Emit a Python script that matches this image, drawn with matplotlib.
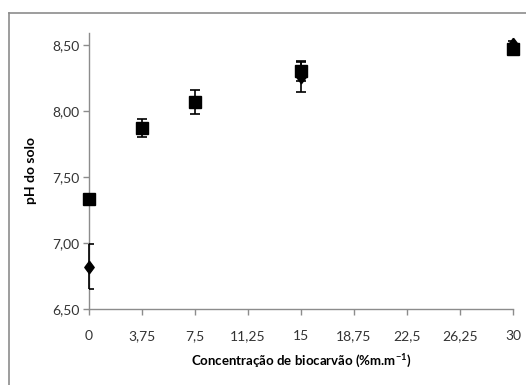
import numpy as np
import matplotlib
matplotlib.use("Agg")
import matplotlib.pyplot as plt
from matplotlib.lines import Line2D

plt.rcParams['font.family'] = ['Lato', 'DejaVu Sans']

# biochar concentration (% m/m) and soil pH, two series
conc = [0, 3.75, 7.5, 15, 30]
ph_diamond = [6.82, 7.87, 8.07, 8.26, 8.51]
err_diamond = [0.17, 0.03, 0.03, 0.12, 0.02]
ph_square = [7.33, 7.87, 8.07, 8.30, 8.47]
err_square = [0.02, 0.07, 0.09, 0.07, 0.02]

xticks = [0, 3.75, 7.5, 11.25, 15, 18.75, 22.5, 26.25, 30]
xtick_labels = ['0', '3,75', '7,5', '11,25', '15', '18,75', '22,5', '26,25', '30']
yticks = [6.5, 7.0, 7.5, 8.0, 8.5]
ytick_labels = ['6,50', '7,00', '7,50', '8,00', '8,50']

# slightly tall diamond, like the spreadsheet marker
tall_diamond = [(0, 1), (0.75, 0), (0, -1), (-0.75, 0), (0, 1)]

fig = plt.figure(figsize=(5.26, 3.85), dpi=100)
ax = fig.add_axes([89 / 526, 1 - 309 / 385, (513 - 89) / 526, (309 - 33) / 385])

eb1 = ax.errorbar(conc, ph_diamond, yerr=err_diamond, fmt='none', ecolor='black',
                  capsize=3.5, elinewidth=1.2, capthick=1.2, zorder=3)
ax.plot(conc, ph_diamond, linestyle='none', marker=tall_diamond, color='black',
        markersize=9, zorder=3, clip_on=False)
eb2 = ax.errorbar(conc, ph_square, yerr=err_square, fmt='s', color='black',
                  markersize=8, capsize=3.5, elinewidth=1.2, capthick=1.2, zorder=4)
for eb in (eb1, eb2):
    for child in eb.lines[0:1] + tuple(eb.lines[2]):
        if child is not None:
            child.set_clip_on(False)

ax.set_xlim(0, 30)
ax.set_ylim(6.5, 8.59)
ax.set_xticks(xticks)
ax.set_xticklabels(xtick_labels)
ax.set_yticks(yticks)
ax.set_yticklabels(ytick_labels)

for s in ['top', 'right']:
    ax.spines[s].set_visible(False)
for s in ['left', 'bottom']:
    ax.spines[s].set_color('#8c8c8c')
    ax.spines[s].set_linewidth(1.0)
ax.spines['left'].set_zorder(1)
ax.tick_params(axis='both', colors='#8c8c8c', length=4, width=1.0,
               labelsize=10, labelcolor='#333333')
ax.tick_params(axis='x', pad=11)
ax.tick_params(axis='y', pad=3)

ax.set_xlabel('Concentração de biocarvão (%m.m$^{\\mathregular{-1}}$)',
              fontsize=9.5, fontweight='bold', labelpad=8)
ax.xaxis.set_label_coords((301 - 89) / (513 - 89), -0.16)
ax.set_ylabel('pH do solo', fontsize=10, fontweight='bold')
ax.yaxis.set_label_coords((37 - 89) / (513 - 89), 0.5)

# chart area border (left and top edges visible)
fig.add_artist(Line2D([9.5 / 526, 9.5 / 526], [0, 1 - 12.5 / 385],
                      transform=fig.transFigure, color='#8c8c8c', lw=1.2))
fig.add_artist(Line2D([9.5 / 526, 1], [1 - 12.5 / 385, 1 - 12.5 / 385],
                      transform=fig.transFigure, color='#8c8c8c', lw=1.2))

fig.savefig('out.png', dpi=100)
